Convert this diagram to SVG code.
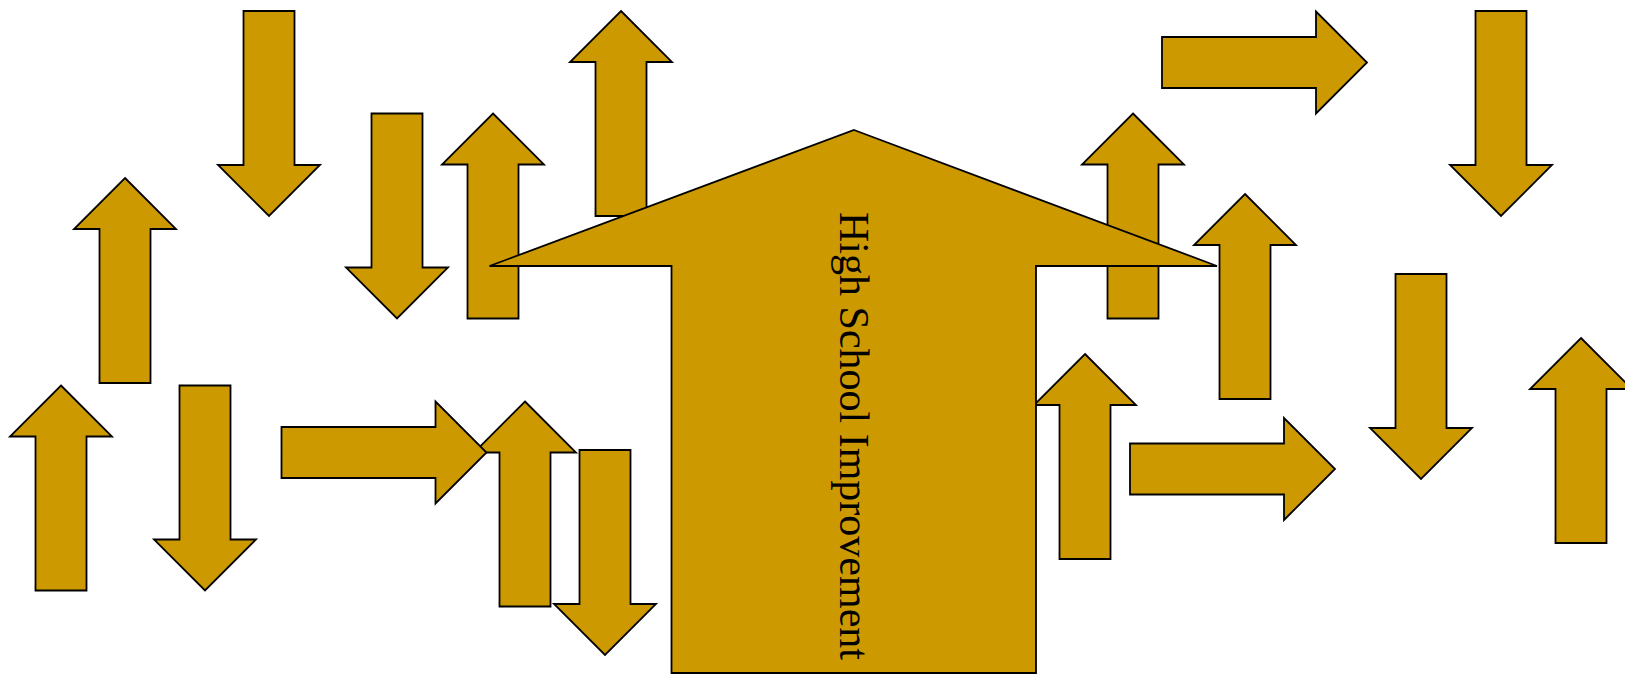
<svg xmlns="http://www.w3.org/2000/svg" width="1625" height="674" viewBox="0 0 1625 674">
<style>
.ar{fill:#CC9900;stroke:#000;stroke-width:1.8;stroke-linejoin:miter}
.lbl{font-family:"Liberation Serif","Times New Roman",serif;font-size:42px;fill:#000}
</style>
<rect width="1625" height="674" fill="#fff"/>
<g id="arrows">
<g id="arrow-a"><polygon class="ar" points="243.5,11 294.5,11 294.5,165 320,165 269,216 218,165 243.5,165"/></g>
<g id="arrow-b"><polygon class="ar" points="125,178 176,229 150.5,229 150.5,383 99.5,383 99.5,229 74,229"/></g>
<g id="arrow-c"><polygon class="ar" points="371.5,113.5 422.5,113.5 422.5,267.5 448,267.5 397,318.5 346,267.5 371.5,267.5"/></g>
<g id="arrow-d"><polygon class="ar" points="493,113.5 544,164.5 518.5,164.5 518.5,318.5 467.5,318.5 467.5,164.5 442,164.5"/></g>
<g id="arrow-e"><polygon class="ar" points="61,385.5 112,436.5 86.5,436.5 86.5,590.5 35.5,590.5 35.5,436.5 10,436.5"/></g>
<g id="arrow-f"><polygon class="ar" points="179.5,385.5 230.5,385.5 230.5,539.5 256,539.5 205,590.5 154,539.5 179.5,539.5"/></g>
<g id="arrow-h"><polygon class="ar" points="525,401.5 576,452.5 550.5,452.5 550.5,606.5 499.5,606.5 499.5,452.5 474,452.5"/></g>
<g id="arrow-g"><polygon class="ar" points="281.5,427 435.5,427 435.5,401.5 486.5,452.5 435.5,503.5 435.5,478 281.5,478"/></g>
<g id="arrow-i"><polygon class="ar" points="579.5,450 630.5,450 630.5,604 656,604 605,655 554,604 579.5,604"/></g>
<g id="arrow-j"><polygon class="ar" points="621,11 672,62 646.5,62 646.5,216 595.5,216 595.5,62 570,62"/></g>
<g id="arrow-k"><polygon class="ar" points="1133,113.5 1184,164.5 1158.5,164.5 1158.5,318.5 1107.5,318.5 1107.5,164.5 1082,164.5"/></g>
<g id="arrow-l"><polygon class="ar" points="1162,37 1316,37 1316,11.5 1367,62.5 1316,113.5 1316,88 1162,88"/></g>
<g id="arrow-m"><polygon class="ar" points="1475.5,11 1526.5,11 1526.5,165 1552,165 1501,216 1450,165 1475.5,165"/></g>
<g id="arrow-n"><polygon class="ar" points="1245,194 1296,245 1270.5,245 1270.5,399 1219.5,399 1219.5,245 1194,245"/></g>
<g id="arrow-o"><polygon class="ar" points="1395.5,274 1446.5,274 1446.5,428 1472,428 1421,479 1370,428 1395.5,428"/></g>
<g id="arrow-p"><polygon class="ar" points="1130,443.5 1284,443.5 1284,418 1335,469 1284,520 1284,494.5 1130,494.5"/></g>
<g id="arrow-q"><polygon class="ar" points="1581,338 1632,389 1606.5,389 1606.5,543 1555.5,543 1555.5,389 1530,389"/></g>
<g id="arrow-r"><polygon class="ar" points="1085,354 1136,405 1110.5,405 1110.5,559 1059.5,559 1059.5,405 1034,405"/></g>
</g>
<g id="main-arrow">
<polygon class="ar" points="854,130 1217,266 1036,266 1036,673 671.5,673 671.5,266 489.5,266"/>
<text class="lbl" font-family="Liberation Serif, serif" text-anchor="middle" transform="translate(840,436) rotate(90)">High School Improvement</text>
</g>
</svg>
